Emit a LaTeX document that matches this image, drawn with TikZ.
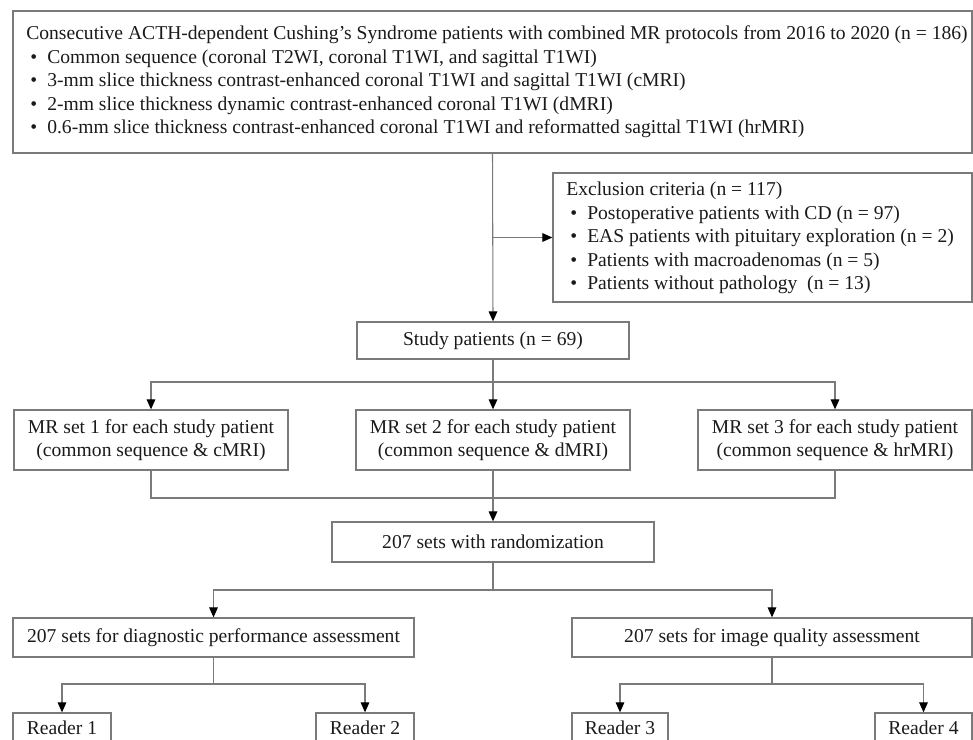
\documentclass[tikz,border=0pt]{standalone}
\usepackage{fontspec}
\setmainfont{Liberation Serif}
\usetikzlibrary{arrows.meta}
\definecolor{linegray}{HTML}{7A7A7A}
\definecolor{textgray}{HTML}{1A1A1A}
\newcommand{\bul}{\hspace*{3pt}\makebox[12.75pt][l]{•}}
\begin{document}
\begin{tikzpicture}[x=0.75pt,y=-0.75pt,
  box/.style={draw=linegray, line width=1pt, inner sep=0pt},
  txt/.style={font=\fontsize{14.7}{17.6}\selectfont, text=textgray, inner sep=0pt},
  conn/.style={draw=linegray, line width=0.8pt},
  arr/.style={conn, -{Triangle[length=7.5pt,width=6.5pt,color=black]}}]
\useasboundingbox (0,0) rectangle (973,739);
\clip (0,0) rectangle (973,739);

% top box
\node[box, minimum width=719.25pt, minimum height=106.5pt] (top) at (492.5,82) {};
\node[txt, anchor=west, align=left] (toptext) at (26,82) {Consecutive ACTH-dependent Cushing’s Syndrome patients with combined MR protocols from 2016 to 2020 (n = 186)\\
\bul Common sequence (coronal T2WI, coronal T1WI, and sagittal T1WI)\\
\bul 3-mm slice thickness contrast-enhanced coronal T1WI and sagittal T1WI (cMRI)\\
\bul 2-mm slice thickness dynamic contrast-enhanced coronal T1WI (dMRI)\\
\bul 0.6-mm slice thickness contrast-enhanced coronal T1WI and reformatted sagittal T1WI (hrMRI)};

% exclusion box
\node[box, minimum width=314.25pt, minimum height=96.75pt] (excl) at (762.5,237.5) {};
\node[txt, anchor=west, align=left] (excltext) at (566,238) {Exclusion criteria (n = 117)\\
\bul Postoperative patients with CD (n = 97)\\
\bul EAS patients with pituitary exploration (n = 2)\\
\bul Patients with macroadenomas (n = 5)\\
\bul Patients without pathology\ \ (n = 13)};

% study
\node[box, txt, minimum width=204pt, minimum height=27.75pt] (study) at (493,340.5) {Study patients (n = 69)};

% MR sets
\node[box, txt, align=center, minimum width=205.5pt, minimum height=45pt] (mr1) at (151,440) {MR set 1 for each study patient\\(common sequence \& cMRI)};
\node[box, txt, align=center, minimum width=205.5pt, minimum height=45pt] (mr2) at (493,440) {MR set 2 for each study patient\\(common sequence \& dMRI)};
\node[box, txt, align=center, minimum width=205.5pt, minimum height=45pt] (mr3) at (835,440) {MR set 3 for each study patient\\(common sequence \& hrMRI)};

% randomization
\node[box, txt, minimum width=241.5pt, minimum height=30pt] (rand) at (493,542) {207 sets with randomization};

% assessments
\node[box, txt, minimum width=300.75pt, minimum height=29.25pt] (diag) at (213.5,637.5) {207 sets for diagnostic performance assessment};
\node[box, txt, minimum width=300pt, minimum height=29.25pt] (qual) at (772,637.5) {207 sets for image quality assessment};

% readers
\node[box, txt, minimum width=73.5pt, minimum height=22.5pt] (r1) at (62,728) {Reader 1};
\node[box, txt, minimum width=73.5pt, minimum height=22.5pt] (r2) at (365,728) {Reader 2};
\node[box, txt, minimum width=72pt, minimum height=22.5pt] (r3) at (620,728) {Reader 3};
\node[box, txt, minimum width=72.75pt, minimum height=22.5pt] (r4) at (923.5,728) {Reader 4};

% connectors
\draw[arr] (top.south) -- (study.north);
\coordinate (side) at (top.south |- excl.west);
\draw[arr] (side) -- (excl.west);

\coordinate (split1) at (493,382);
\draw[conn] (study.south) -- (split1);
\draw[arr] (split1) -| (mr1.north);
\draw[arr] (split1) -- (mr2.north);
\draw[arr] (split1) -| (mr3.north);

\coordinate (join) at (493,498);
\draw[conn] (mr1.south) |- (join);
\draw[conn] (mr3.south) |- (join);
\draw[conn] (mr2.south) -- (join);
\draw[arr] (join) -- (rand.north);

\coordinate (split2) at (493,590);
\draw[conn] (rand.south) -- (split2);
\draw[arr] (split2) -| (diag.north);
\draw[arr] (split2) -| (qual.north);

\coordinate (split3) at (213.5,684);
\draw[conn] (diag.south) -- (split3);
\draw[arr] (split3) -| (r1.north);
\draw[arr] (split3) -| (r2.north);

\coordinate (split4) at (772,684);
\draw[conn] (qual.south) -- (split4);
\draw[arr] (split4) -| (r3.north);
\draw[arr] (split4) -| (r4.north);
\end{tikzpicture}
\end{document}
